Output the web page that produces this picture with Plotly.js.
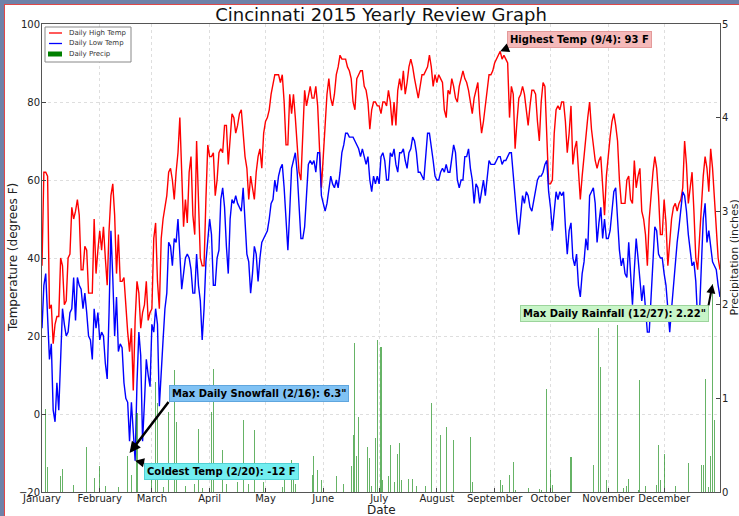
<!DOCTYPE html>
<html><head><meta charset="utf-8">
<script src="https://cdn.plot.ly/plotly-3.0.1.min.js"></script>
<style>
html,body{margin:0;padding:0;background:#fff;}
#chart{position:absolute;left:0;top:0;width:739px;height:516px;}
.frame{position:absolute;background:#6f82a8;z-index:10;}
.red{position:absolute;background:#e04848;z-index:11;}
</style></head><body>
<div id="chart"></div>
<div class="frame" style="left:0;top:0;width:739px;height:4px"></div>
<div class="frame" style="left:0;top:0;width:4px;height:516px"></div>
<div class="red" style="left:4px;top:4px;width:735px;height:1px"></div>
<div class="red" style="left:4px;top:4px;width:1px;height:512px"></div>
<script>
// Daily high temperatures (F), Jan 1 .. Dec 31 2015, one row per month
const highTemp = [
 38,62,62,61,27,28,18,23,25,25,40,38,28,29,40,41,53,50,52,55,51,37,37,43,42,31,31,31,50,36,42,
 47,42,48,40,33,47,56,59,51,36,46,34,34,35,27,21,16,22,6,24,34,31,22,26,28,34,24,26,
 27,45,49,34,27,45,50,53,56,62,63,60,55,62,67,76,62,48,55,49,62,66,51,46,70,52,40,38,38,55,69,
 66,66,67,56,60,67,68,67,74,74,64,70,77,76,72,74,77,78,71,66,63,55,61,58,55,62,66,68,63,72,
 75,76,78,82,85,87,87,87,85,87,80,69,69,82,77,82,76,68,62,60,74,83,79,82,84,81,81,84,79,68,58,
 66,74,82,86,81,79,82,87,89,92,91,91,91,89,88,86,80,78,86,87,88,88,84,83,80,73,78,80,80,79,
 79,77,80,80,79,83,80,74,80,74,83,86,83,88,82,85,89,91,89,86,83,81,84,87,87,88,89,92,89,84,87,
 85,87,86,85,78,76,83,82,86,84,81,80,84,86,88,86,85,83,80,77,81,83,85,77,72,75,79,84,87,87,88,
 90,91,92,93,91,92,91,90,76,84,82,68,75,81,82,84,82,78,74,79,83,83,82,75,70,80,85,84,72,59,
 59,60,72,78,79,78,80,80,75,67,72,79,64,68,70,63,55,61,67,71,76,80,73,68,65,63,65,66,58,51,61,
 67,71,75,77,74,70,60,54,54,54,60,61,55,54,65,58,61,63,52,50,46,38,50,57,62,66,63,56,46,46,
 55,49,38,44,50,53,54,52,54,55,58,70,64,54,59,62,52,40,37,45,55,61,66,63,57,68,63,56,47,40,37
];
// Daily low temperatures (F)
const lowTemp = [
 22,33,36,26,14,18,1,-2,8,1,16,27,23,20,21,26,27,35,24,35,33,32,27,31,26,20,19,14,27,22,26,
 19,21,20,13,9,26,47,35,20,30,16,18,17,8,4,3,-7,3,-5,-12,8,21,15,-7,3,14,10,7,
 23,21,27,23,2,12,19,27,31,44,43,38,45,44,50,41,32,36,40,41,40,37,31,31,41,33,29,19,27,39,45,
 50,46,33,33,40,42,55,58,53,43,36,50,55,54,56,54,53,52,58,50,41,39,31,36,43,41,34,40,44,45,
 46,47,50,54,55,60,57,61,63,64,58,48,42,52,63,65,67,62,52,45,45,48,56,64,65,64,65,62,67,67,56,
 54,52,54,57,61,59,58,60,58,62,67,69,72,72,71,71,71,70,69,68,66,68,66,64,66,60,57,61,59,61,
 59,66,67,65,60,60,67,66,68,64,62,67,67,68,65,63,67,68,71,70,67,62,62,61,60,66,72,72,69,65,61,
 60,60,62,63,62,64,62,62,66,69,67,60,58,60,60,66,66,68,63,60,54,59,58,54,57,60,56,60,65,64,64,
 64,65,66,66,64,65,65,66,67,67,61,55,50,46,51,56,54,57,56,53,52,55,57,60,61,61,62,64,65,57,
 53,47,52,57,55,57,56,57,48,41,47,49,40,38,41,33,30,36,39,45,42,56,57,58,54,44,49,53,45,50,45,
 45,47,52,57,58,49,42,38,40,36,35,44,36,28,37,45,40,35,29,33,27,21,21,29,39,48,47,41,40,40,
 36,33,27,21,27,33,38,44,48,52,57,56,52,46,41,38,39,34,24,26,38,50,54,44,47,42,39,38,37,33,30
];
// Daily precipitation (inches), days with measurable amounts
const precipDates = [
 '2015-01-03','2015-01-04','2015-01-11','2015-01-12','2015-01-18','2015-01-25','2015-01-29',
 '2015-02-01','2015-02-04','2015-02-11','2015-02-16','2015-02-18','2015-02-21',
 '2015-03-01','2015-03-03','2015-03-04','2015-03-07','2015-03-10','2015-03-13','2015-03-14','2015-03-19','2015-03-24','2015-03-26','2015-03-28',
 '2015-04-02','2015-04-03','2015-04-08','2015-04-10','2015-04-16','2015-04-19','2015-04-22','2015-04-25','2015-04-30',
 '2015-05-10','2015-05-11','2015-05-15','2015-05-16','2015-05-17','2015-05-26','2015-05-27','2015-05-29','2015-05-31',
 '2015-06-08','2015-06-12','2015-06-16','2015-06-17','2015-06-18','2015-06-19','2015-06-20','2015-06-25','2015-06-26','2015-06-27','2015-06-29','2015-06-30',
 '2015-07-02','2015-07-03','2015-07-06','2015-07-07','2015-07-09','2015-07-11','2015-07-12','2015-07-13','2015-07-17','2015-07-19','2015-07-21','2015-07-26','2015-07-29',
 '2015-08-03','2015-08-06','2015-08-10','2015-08-19','2015-08-20',
 '2015-09-04','2015-09-05','2015-09-09','2015-09-11','2015-09-12','2015-09-19','2015-09-25','2015-09-26','2015-09-29',
 '2015-10-01','2015-10-02','2015-10-12','2015-10-24','2015-10-27','2015-10-28','2015-10-31',
 '2015-11-01','2015-11-06','2015-11-09','2015-11-11','2015-11-12','2015-11-17','2015-11-18','2015-11-21','2015-11-27','2015-11-28','2015-11-29',
 '2015-12-01','2015-12-07','2015-12-14','2015-12-21','2015-12-22','2015-12-23','2015-12-25','2015-12-26','2015-12-27','2015-12-28'
];
const precipIn = [
 0.89,0.27,0.17,0.25,0.07,0.48,0.15,
 0.28,0.06,0.05,0.38,0.18,0.84,
 0.16,1.18,0.95,0.05,0.86,1.30,0.75,0.06,0.09,0.67,0.04,
 0.86,1.31,0.45,0.09,0.11,0.77,0.09,0.66,0.11,
 0.05,0.23,0.34,0.27,0.09,0.18,0.38,0.23,0.13,
 0.17,0.09,0.28,0.61,1.59,0.39,0.80,0.48,0.36,0.06,0.58,1.62,
 1.55,0.13,0.17,0.50,0.11,0.41,0.52,0.13,0.14,0.14,0.06,0.06,0.95,
 0.61,0.69,0.56,0.59,0.11,
 0.13,0.08,0.18,0.32,0.02,0.04,0.03,0.02,1.10,
 0.24,0.08,0.37,0.29,1.75,1.34,0.13,
 0.04,1.78,0.04,0.06,0.14,0.02,1.20,0.06,0.08,0.50,0.13,
 0.41,0.06,0.31,0.29,0.29,1.21,0.05,0.38,2.22,0.77
];
const monthStarts = ['2015-01-01','2015-02-01','2015-03-01','2015-04-01','2015-05-01','2015-06-01',
 '2015-07-01','2015-08-01','2015-09-01','2015-10-01','2015-11-01','2015-12-01'];
const monthNames = ['January','February','March','April','May','June','July','August','September','October','November','December'];
const seriesNames = ['Daily High Temp','Daily Low Temp','Daily Precip'];
const seriesColors = ['#ff0000','#0000ff','#008000'];

const DAY = 86400000;
const t0 = Date.UTC(2015,0,1);
const dates = highTemp.map((_, i) => new Date(t0 + i*DAY).toISOString().slice(0,10));

const FONT = 'DejaVu Sans, Liberation Sans, sans-serif';

const traces = [
  {type:'bar', x:precipDates, y:precipIn, yaxis:'y2', name:seriesNames[2],
   marker:{color:'rgba(0,128,0,0.6)', line:{width:0}}, width:0.55*DAY, showlegend:false, hoverinfo:'x+y'},
  {type:'scatter', mode:'lines', x:dates, y:highTemp, name:seriesNames[0],
   line:{color:seriesColors[0], width:1.4}, showlegend:false},
  {type:'scatter', mode:'lines', x:dates, y:lowTemp, name:seriesNames[1],
   line:{color:seriesColors[1], width:1.4}, showlegend:false}
];

// legend and axis titles placed in paper coordinates
const W = 678, H = 468, L = 42, T = 24;
const px = v => (v - L)/W, py = v => (T + H - v)/H;
const shapes = [
  {type:'rect', xref:'paper', yref:'paper', x0:px(45), x1:px(131), y0:py(62), y1:py(27),
   fillcolor:'#ffffff', line:{color:'#888', width:1}, layer:'above'}
];
const legY = [33, 43.5, 54];
const annotations = [];
seriesNames.forEach((n, i) => {
  if (i < 2) {
    shapes.push({type:'line', xref:'paper', yref:'paper', x0:px(49), x1:px(62), y0:py(legY[i]), y1:py(legY[i]),
      line:{color:seriesColors[i], width:1.3}, layer:'above'});
  } else {
    shapes.push({type:'rect', xref:'paper', yref:'paper', x0:px(48), x1:px(62), y0:py(legY[i]+2.5), y1:py(legY[i]-2.5),
      fillcolor:seriesColors[i], line:{width:0}, layer:'above'});
  }
  annotations.push({xref:'paper', yref:'paper', x:px(67), y:py(legY[i]), text:n, showarrow:false,
    xanchor:'left', yanchor:'middle', font:{size:7, color:'#333', family:FONT}});
});

const titleFont = {size:12, color:'#222', family:FONT};
annotations.push(
  {xref:'paper', yref:'paper', x:px(13), y:0.5, text:'Temperature (degrees F)', textangle:-90,
   showarrow:false, xanchor:'center', yanchor:'middle', font:titleFont},
  {xref:'paper', yref:'paper', x:px(733.5), y:0.5, text:'Precipitation (inches)', textangle:-90,
   showarrow:false, xanchor:'center', yanchor:'middle', font:{size:11, color:'#222', family:FONT}},
  {xref:'paper', yref:'paper', x:px(381), y:py(510), text:'Date',
   showarrow:false, xanchor:'center', yanchor:'middle', font:titleFont}
);

const boxFont = {size:10, color:'#000', family:FONT};
annotations.push(
  {x:'2015-09-04', y:93, xref:'x', yref:'y', text:'<b>Highest Temp (9/4): 93 F</b>',
   showarrow:true, ax:7, ay:-3, xanchor:'left', yanchor:'bottom', arrowhead:2, arrowsize:0.9, arrowwidth:2, arrowcolor:'#000',
   bgcolor:'#f5b9b9', bordercolor:'#e49a9a', borderwidth:1, borderpad:2, font:boxFont},
  {x:'2015-02-17', y:-10, xref:'x', yref:'y', text:'<b>Max Daily Snowfall (2/16): 6.3"</b>',
   showarrow:true, ax:39, ay:-51, xanchor:'left', yanchor:'bottom', arrowhead:2, arrowsize:0.9, arrowwidth:2.5, arrowcolor:'#000',
   bgcolor:'#80c2f4', bordercolor:'#5fa6de', borderwidth:1, borderpad:2, font:boxFont},
  {x:'2015-02-20', y:-12, xref:'x', yref:'y', text:'<b>Coldest Temp (2/20): -12 F</b>',
   showarrow:true, ax:9, ay:2, xanchor:'left', yanchor:'top', arrowhead:2, arrowsize:0.9, arrowwidth:2, arrowcolor:'#000',
   bgcolor:'#72eef0', bordercolor:'#52d0d4', borderwidth:1, borderpad:2, font:boxFont},
  {x:'2015-12-27', y:2.22, xref:'x', yref:'y2', text:'<b>Max Daily Rainfall (12/27): 2.22"</b>',
   showarrow:true, ax:-4, ay:21, xanchor:'right', yanchor:'top', arrowhead:2, arrowsize:0.9, arrowwidth:2, arrowcolor:'#000',
   bgcolor:'#c8f5c8', bordercolor:'#9cd49c', borderwidth:1, borderpad:2, font:boxFont}
);

const axCommon = {
  ticks:'inside', ticklen:4, tickcolor:'#444', showline:true, linecolor:'#555', linewidth:1,
  tickfont:{size:10, color:'#222', family:FONT}, zeroline:false, automargin:false
};

const layout = {
  width:739, height:516,
  margin:{l:L, r:19, t:T, b:24, pad:0},
  paper_bgcolor:'#ffffff', plot_bgcolor:'#ffffff',
  font:{family:FONT, color:'#222'},
  showlegend:false,
  bargap:0,
  title:{text:'Cincinnati 2015 Yearly Review Graph', font:{size:18, color:'#111', family:FONT},
         xref:'paper', x:0.5, xanchor:'center', yref:'container', y:0.971, yanchor:'middle'},
  xaxis:Object.assign({}, axCommon, {
    type:'date', range:['2015-01-01','2015-12-31'], tickvals:monthStarts, ticktext:monthNames,
    showgrid:true, gridcolor:'#dedede', griddash:'dot', gridwidth:1, mirror:true, ticklabelstandoff:-3
  }),
  yaxis:Object.assign({}, axCommon, {
    range:[-20,100], tickvals:[-20,0,20,40,60,80,100], ticklabelstandoff:-1,
    showgrid:true, gridcolor:'#dedede', griddash:'dot', gridwidth:1
  }),
  yaxis2:Object.assign({}, axCommon, {
    overlaying:'y', side:'right', range:[0,5], tickvals:[0,1,2,3,4,5], showgrid:false, ticklabelstandoff:-1
  }),
  shapes:shapes,
  annotations:annotations
};

Plotly.newPlot('chart', traces, layout, {displayModeBar:false, staticPlot:true});
</script>
</body></html>
